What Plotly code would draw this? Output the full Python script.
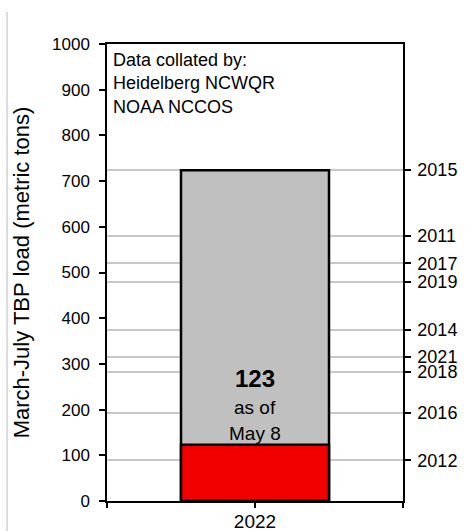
import plotly.graph_objects as go

# Data
category = ["2022"]
current_load = [123]          # as of May 8
year_labels = ["2015", "2011", "2017", "2019", "2014", "2021", "2018", "2016", "2012"]
year_loads = [724, 580, 520, 480, 374, 315, 282, 193, 89]
max_load = max(year_loads)
y_ticks = list(range(0, 1001, 100))

W, H = 473, 531
ml, mr, mt, mb = 107, 70, 44, 30

fig = go.Figure()

# gray bar: full range up to the max historic load
fig.add_trace(go.Bar(
    x=[0], y=[max_load], width=[1.0],
    marker=dict(color="#c0c0c0", line=dict(color="black", width=2.5)),
    yaxis="y2", hoverinfo="skip", showlegend=False,
))
# red bar: current load
fig.add_trace(go.Bar(
    x=[0], y=current_load, width=[1.0],
    marker=dict(color="#f20000", line=dict(color="black", width=2.5)),
    yaxis="y2", hoverinfo="skip", showlegend=False,
))

font_family = "Liberation Sans, Arial, sans-serif"

fig.update_layout(
    width=W, height=H,
    margin=dict(l=ml, r=mr, t=mt, b=mb, pad=0, autoexpand=False),
    paper_bgcolor="white", plot_bgcolor="white",
    barmode="overlay",
    font=dict(family=font_family, color="black"),
    xaxis=dict(
        range=[-1, 1], tickvals=[-1, 0, 1], ticktext=["", category[0], ""],
        ticks="outside", ticklen=5, tickwidth=1.5, tickcolor="black",
        showline=True, linecolor="black", linewidth=1.5, mirror=True,
        showgrid=False, zeroline=False, tickfont=dict(size=19),
        ticklabelstandoff=-3,
        automargin=False, fixedrange=True,
    ),
    yaxis=dict(
        range=[0, 1000], tickvals=y_ticks,
        ticks="outside", ticklen=6, tickwidth=1.5, tickcolor="black",
        showline=True, linecolor="black", linewidth=1.5,
        showgrid=False, zeroline=False, tickfont=dict(size=17),
        ticklabelstandoff=6,
        automargin=False,
        title=dict(text="March-July TBP load (metric tons)", font=dict(size=22), standoff=16),
    ),
    yaxis2=dict(
        range=[0, 1000], overlaying="y", side="right",
        tickvals=year_loads, ticktext=year_labels,
        ticks="outside", ticklen=6, tickwidth=1.5, tickcolor="black",
        showline=True, linecolor="black", linewidth=1.5,
        showgrid=True, gridcolor="#c8c8c8", gridwidth=1.5,
        zeroline=False, tickfont=dict(size=18), ticklabelstandoff=3,
        automargin=False,
    ),
)

fig.add_annotation(
    xref="x domain", yref="y", x=0.012, y=992, xanchor="left", yanchor="top",
    text="Data collated by:<br>Heidelberg NCWQR<br>NOAA NCCOS", showarrow=False,
    align="left", font=dict(size=18),
)
fig.add_annotation(
    xref="x", yref="y", x=0, y=269, text="<b>%d</b>" % current_load[0], showarrow=False,
    font=dict(size=24),
)
fig.add_annotation(
    xref="x", yref="y", x=0, y=205, text="as of", showarrow=False, font=dict(size=19),
)
fig.add_annotation(
    xref="x", yref="y", x=0, y=148, text="May 8", showarrow=False, font=dict(size=19),
)

# thin page border line at the left
fig.add_shape(type="line", xref="paper", yref="paper",
              x0=-(ml - 7) / (W - ml - mr), x1=-(ml - 7) / (W - ml - mr),
              y0=-mb / (H - mt - mb), y1=1 + (mt - 12) / (H - mt - mb),
              line=dict(color="#d0d0d0", width=1.5))

fig.write_html("out.html", config={"displayModeBar": False},
               post_script="document.body.style.margin='0px';")
